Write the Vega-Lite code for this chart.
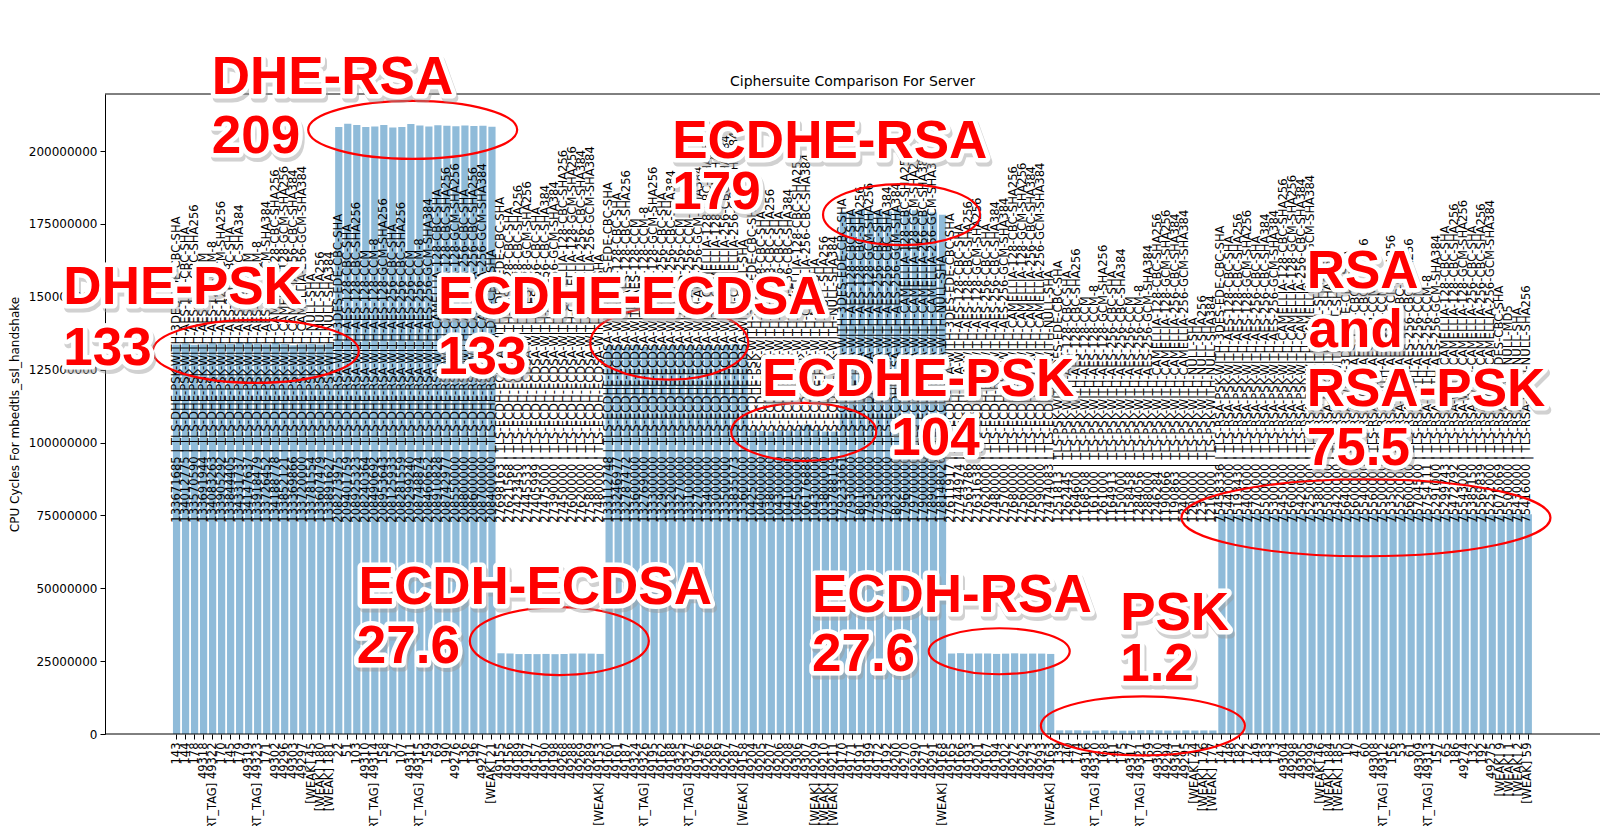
{
  "$schema": "https://vega.github.io/schema/vega-lite/v6.json",
  "width": 1495,
  "height": 640,
  "autosize": {"type": "none"},
  "padding": {"left": 105, "top": 94, "right": 0, "bottom": 92},
  "background": "white",
  "config": {
    "view": {"stroke": null},
    "font": "DejaVu Sans",
    "axis": {"labelFont": "DejaVu Sans", "labelFontSize": 12, "labelColor": "black", "tickColor": "black", "domainColor": "black", "tickSize": 5, "titleFont": "DejaVu Sans", "titleFontSize": 12, "titleFontWeight": "normal", "titleColor": "black", "grid": false}
  },
  "datasets": {
    "suites": [
      {"id": "143", "name": "TLS-DHE-PSK-WITH-3DES-EDE-CBC-SHA", "v": 133671685},
      {"id": "144", "name": "TLS-DHE-PSK-WITH-AES-128-CBC-SHA", "v": 134012775},
      {"id": "178", "name": "TLS-DHE-PSK-WITH-AES-128-CBC-SHA256", "v": 133570590},
      {"id": "49318", "name": "TLS-DHE-PSK-WITH-AES-128-CCM", "v": 133691944},
      {"id": "[SHORT_TAG] 49322", "name": "TLS-DHE-PSK-WITH-AES-128-CCM-8", "v": 134083263},
      {"id": "170", "name": "TLS-DHE-PSK-WITH-AES-128-GCM-SHA256", "v": 133905292},
      {"id": "145", "name": "TLS-DHE-PSK-WITH-AES-256-CBC-SHA", "v": 133844405},
      {"id": "179", "name": "TLS-DHE-PSK-WITH-AES-256-CBC-SHA384", "v": 134331737},
      {"id": "49319", "name": "TLS-DHE-PSK-WITH-AES-256-CCM", "v": 134147637},
      {"id": "[SHORT_TAG] 49323", "name": "TLS-DHE-PSK-WITH-AES-256-CCM-8", "v": 133918479},
      {"id": "171", "name": "TLS-DHE-PSK-WITH-AES-256-GCM-SHA384", "v": 133726452},
      {"id": "49302", "name": "TLS-DHE-PSK-WITH-CAMELLIA-128-CBC-SHA256", "v": 134188778},
      {"id": "49296", "name": "TLS-DHE-PSK-WITH-CAMELLIA-128-GCM-SHA256", "v": 133852121},
      {"id": "49303", "name": "TLS-DHE-PSK-WITH-CAMELLIA-256-CBC-SHA384", "v": 133369866},
      {"id": "49297", "name": "TLS-DHE-PSK-WITH-CAMELLIA-256-GCM-SHA384", "v": 133720000},
      {"id": "[WEAK] 45", "name": "TLS-DHE-PSK-WITH-NULL-SHA", "v": 133781554},
      {"id": "[WEAK] 180", "name": "TLS-DHE-PSK-WITH-NULL-SHA256", "v": 133607479},
      {"id": "[WEAK] 181", "name": "TLS-DHE-PSK-WITH-NULL-SHA384", "v": 133891627},
      {"id": "22", "name": "TLS-DHE-RSA-WITH-3DES-EDE-CBC-SHA", "v": 208273975},
      {"id": "51", "name": "TLS-DHE-RSA-WITH-AES-128-CBC-SHA", "v": 209401759},
      {"id": "103", "name": "TLS-DHE-RSA-WITH-AES-128-CBC-SHA256", "v": 208925323},
      {"id": "49310", "name": "TLS-DHE-RSA-WITH-AES-128-CCM", "v": 208240364},
      {"id": "[SHORT_TAG] 49314", "name": "TLS-DHE-RSA-WITH-AES-128-CCM-8", "v": 208490692},
      {"id": "158", "name": "TLS-DHE-RSA-WITH-AES-128-GCM-SHA256", "v": 208953643},
      {"id": "57", "name": "TLS-DHE-RSA-WITH-AES-256-CBC-SHA", "v": 208125933},
      {"id": "107", "name": "TLS-DHE-RSA-WITH-AES-256-CBC-SHA256", "v": 208281559},
      {"id": "49311", "name": "TLS-DHE-RSA-WITH-AES-256-CCM", "v": 209299240},
      {"id": "[SHORT_TAG] 49315", "name": "TLS-DHE-RSA-WITH-AES-256-CCM-8", "v": 208748874},
      {"id": "159", "name": "TLS-DHE-RSA-WITH-AES-256-GCM-SHA384", "v": 208460652},
      {"id": "69", "name": "TLS-DHE-RSA-WITH-CAMELLIA-128-CBC-SHA", "v": 208910828},
      {"id": "190", "name": "TLS-DHE-RSA-WITH-CAMELLIA-128-CBC-SHA256", "v": 208742977},
      {"id": "49276", "name": "TLS-DHE-RSA-WITH-CAMELLIA-128-GCM-SHA256", "v": 208550000},
      {"id": "136", "name": "TLS-DHE-RSA-WITH-CAMELLIA-256-CBC-SHA", "v": 208800000},
      {"id": "196", "name": "TLS-DHE-RSA-WITH-CAMELLIA-256-CBC-SHA256", "v": 208600000},
      {"id": "49277", "name": "TLS-DHE-RSA-WITH-CAMELLIA-256-GCM-SHA384", "v": 208700000},
      {"id": "[WEAK] 21", "name": "TLS-DHE-RSA-WITH-DES-CBC-SHA", "v": 208400000},
      {"id": "49155", "name": "TLS-ECDH-ECDSA-WITH-3DES-EDE-CBC-SHA", "v": 27698163},
      {"id": "49156", "name": "TLS-ECDH-ECDSA-WITH-AES-128-CBC-SHA", "v": 27621568},
      {"id": "49189", "name": "TLS-ECDH-ECDSA-WITH-AES-128-CBC-SHA256", "v": 27423450},
      {"id": "49197", "name": "TLS-ECDH-ECDSA-WITH-AES-128-GCM-SHA256", "v": 27445533},
      {"id": "49157", "name": "TLS-ECDH-ECDSA-WITH-AES-256-CBC-SHA", "v": 27405999},
      {"id": "49190", "name": "TLS-ECDH-ECDSA-WITH-AES-256-CBC-SHA384", "v": 27475000},
      {"id": "49198", "name": "TLS-ECDH-ECDSA-WITH-AES-256-GCM-SHA384", "v": 27390000},
      {"id": "49268", "name": "TLS-ECDH-ECDSA-WITH-CAMELLIA-128-CBC-SHA256", "v": 27450000},
      {"id": "49288", "name": "TLS-ECDH-ECDSA-WITH-CAMELLIA-128-GCM-SHA256", "v": 27600000},
      {"id": "49269", "name": "TLS-ECDH-ECDSA-WITH-CAMELLIA-256-CBC-SHA384", "v": 27620000},
      {"id": "49289", "name": "TLS-ECDH-ECDSA-WITH-CAMELLIA-256-GCM-SHA384", "v": 27580000},
      {"id": "[WEAK] 49153", "name": "TLS-ECDH-ECDSA-WITH-NULL-SHA", "v": 27480000},
      {"id": "49160", "name": "TLS-ECDHE-ECDSA-WITH-3DES-EDE-CBC-SHA", "v": 133112748},
      {"id": "49161", "name": "TLS-ECDHE-ECDSA-WITH-AES-128-CBC-SHA", "v": 133246977},
      {"id": "49187", "name": "TLS-ECDHE-ECDSA-WITH-AES-128-CBC-SHA256", "v": 132787472},
      {"id": "49324", "name": "TLS-ECDHE-ECDSA-WITH-AES-128-CCM", "v": 133600000},
      {"id": "[SHORT_TAG] 49326", "name": "TLS-ECDHE-ECDSA-WITH-AES-128-CCM-8", "v": 132769000},
      {"id": "49195", "name": "TLS-ECDHE-ECDSA-WITH-AES-128-GCM-SHA256", "v": 133300000},
      {"id": "49162", "name": "TLS-ECDHE-ECDSA-WITH-AES-256-CBC-SHA", "v": 132900000},
      {"id": "49188", "name": "TLS-ECDHE-ECDSA-WITH-AES-256-CBC-SHA384", "v": 133200000},
      {"id": "49325", "name": "TLS-ECDHE-ECDSA-WITH-AES-256-CCM", "v": 133270000},
      {"id": "[SHORT_TAG] 49327", "name": "TLS-ECDHE-ECDSA-WITH-AES-256-CCM-8", "v": 133100000},
      {"id": "49196", "name": "TLS-ECDHE-ECDSA-WITH-AES-256-GCM-SHA384", "v": 132700000},
      {"id": "49266", "name": "TLS-ECDHE-ECDSA-WITH-CAMELLIA-128-CBC-SHA256", "v": 133400000},
      {"id": "49286", "name": "TLS-ECDHE-ECDSA-WITH-CAMELLIA-128-GCM-SHA256", "v": 133000000},
      {"id": "49267", "name": "TLS-ECDHE-ECDSA-WITH-CAMELLIA-256-CBC-SHA384", "v": 133500000},
      {"id": "49287", "name": "TLS-ECDHE-ECDSA-WITH-CAMELLIA-256-GCM-SHA384", "v": 133835073},
      {"id": "[WEAK] 49158", "name": "TLS-ECDHE-ECDSA-WITH-NULL-SHA", "v": 133600000},
      {"id": "49204", "name": "TLS-ECDHE-PSK-WITH-3DES-EDE-CBC-SHA", "v": 104250000},
      {"id": "49205", "name": "TLS-ECDHE-PSK-WITH-AES-128-CBC-SHA", "v": 104000000},
      {"id": "49207", "name": "TLS-ECDHE-PSK-WITH-AES-128-CBC-SHA256", "v": 103800000},
      {"id": "49206", "name": "TLS-ECDHE-PSK-WITH-AES-256-CBC-SHA", "v": 104300000},
      {"id": "49208", "name": "TLS-ECDHE-PSK-WITH-AES-256-CBC-SHA384", "v": 104100000},
      {"id": "49306", "name": "TLS-ECDHE-PSK-WITH-CAMELLIA-128-CBC-SHA256", "v": 104500000},
      {"id": "49307", "name": "TLS-ECDHE-PSK-WITH-CAMELLIA-256-CBC-SHA384", "v": 106176888},
      {"id": "[WEAK] 49209", "name": "TLS-ECDHE-PSK-WITH-NULL-SHA", "v": 104300000},
      {"id": "[WEAK] 49210", "name": "TLS-ECDHE-PSK-WITH-NULL-SHA256", "v": 103800000},
      {"id": "[WEAK] 49211", "name": "TLS-ECDHE-PSK-WITH-NULL-SHA384", "v": 103788109},
      {"id": "49170", "name": "TLS-ECDHE-RSA-WITH-3DES-EDE-CBC-SHA", "v": 179233061},
      {"id": "49171", "name": "TLS-ECDHE-RSA-WITH-AES-128-CBC-SHA", "v": 179300000},
      {"id": "49191", "name": "TLS-ECDHE-RSA-WITH-AES-128-CBC-SHA256", "v": 180100000},
      {"id": "49199", "name": "TLS-ECDHE-RSA-WITH-AES-128-GCM-SHA256", "v": 179300000},
      {"id": "49172", "name": "TLS-ECDHE-RSA-WITH-AES-256-CBC-SHA", "v": 179500000},
      {"id": "49192", "name": "TLS-ECDHE-RSA-WITH-AES-256-CBC-SHA384", "v": 179300000},
      {"id": "49200", "name": "TLS-ECDHE-RSA-WITH-AES-256-GCM-SHA384", "v": 180200000},
      {"id": "49270", "name": "TLS-ECDHE-RSA-WITH-CAMELLIA-128-CBC-SHA256", "v": 179600000},
      {"id": "49290", "name": "TLS-ECDHE-RSA-WITH-CAMELLIA-128-GCM-SHA256", "v": 179700000},
      {"id": "49271", "name": "TLS-ECDHE-RSA-WITH-CAMELLIA-256-CBC-SHA384", "v": 179000000},
      {"id": "49291", "name": "TLS-ECDHE-RSA-WITH-CAMELLIA-256-GCM-SHA384", "v": 178900000},
      {"id": "[WEAK] 49168", "name": "TLS-ECDHE-RSA-WITH-NULL-SHA", "v": 178148026},
      {"id": "49165", "name": "TLS-ECDH-RSA-WITH-3DES-EDE-CBC-SHA", "v": 27611917},
      {"id": "49166", "name": "TLS-ECDH-RSA-WITH-AES-128-CBC-SHA", "v": 27744974},
      {"id": "49193", "name": "TLS-ECDH-RSA-WITH-AES-128-CBC-SHA256", "v": 27563786},
      {"id": "49201", "name": "TLS-ECDH-RSA-WITH-AES-128-GCM-SHA256", "v": 27631638},
      {"id": "49167", "name": "TLS-ECDH-RSA-WITH-AES-256-CBC-SHA", "v": 27620000},
      {"id": "49194", "name": "TLS-ECDH-RSA-WITH-AES-256-CBC-SHA384", "v": 27480000},
      {"id": "49202", "name": "TLS-ECDH-RSA-WITH-AES-256-GCM-SHA384", "v": 27570000},
      {"id": "49272", "name": "TLS-ECDH-RSA-WITH-CAMELLIA-128-CBC-SHA256", "v": 27680000},
      {"id": "49292", "name": "TLS-ECDH-RSA-WITH-CAMELLIA-128-GCM-SHA256", "v": 27560000},
      {"id": "49273", "name": "TLS-ECDH-RSA-WITH-CAMELLIA-256-CBC-SHA384", "v": 27600000},
      {"id": "49293", "name": "TLS-ECDH-RSA-WITH-CAMELLIA-256-GCM-SHA384", "v": 27590000},
      {"id": "[WEAK] 49163", "name": "TLS-ECDH-RSA-WITH-NULL-SHA", "v": 27474083},
      {"id": "139", "name": "TLS-PSK-WITH-3DES-EDE-CBC-SHA", "v": 1251813},
      {"id": "140", "name": "TLS-PSK-WITH-AES-128-CBC-SHA", "v": 1262445},
      {"id": "174", "name": "TLS-PSK-WITH-AES-128-CBC-SHA256", "v": 1264600},
      {"id": "49316", "name": "TLS-PSK-WITH-AES-128-CCM", "v": 1168508},
      {"id": "[SHORT_TAG] 49320", "name": "TLS-PSK-WITH-AES-128-CCM-8", "v": 1161000},
      {"id": "168", "name": "TLS-PSK-WITH-AES-128-GCM-SHA256", "v": 1261000},
      {"id": "141", "name": "TLS-PSK-WITH-AES-256-CBC-SHA", "v": 1164913},
      {"id": "175", "name": "TLS-PSK-WITH-AES-256-CBC-SHA384", "v": 1150000},
      {"id": "49317", "name": "TLS-PSK-WITH-AES-256-CCM", "v": 1158458},
      {"id": "[SHORT_TAG] 49321", "name": "TLS-PSK-WITH-AES-256-CCM-8", "v": 1284056},
      {"id": "169", "name": "TLS-PSK-WITH-AES-256-GCM-SHA384", "v": 1288000},
      {"id": "49300", "name": "TLS-PSK-WITH-CAMELLIA-128-CBC-SHA256", "v": 1246284},
      {"id": "49294", "name": "TLS-PSK-WITH-CAMELLIA-128-GCM-SHA256", "v": 1190066},
      {"id": "49301", "name": "TLS-PSK-WITH-CAMELLIA-256-CBC-SHA384", "v": 1190863},
      {"id": "49295", "name": "TLS-PSK-WITH-CAMELLIA-256-GCM-SHA384", "v": 1240000},
      {"id": "[WEAK] 44", "name": "TLS-PSK-WITH-NULL-SHA", "v": 1200000},
      {"id": "[WEAK] 176", "name": "TLS-PSK-WITH-NULL-SHA256", "v": 1230000},
      {"id": "[WEAK] 177", "name": "TLS-PSK-WITH-NULL-SHA384", "v": 1210000},
      {"id": "147", "name": "TLS-RSA-PSK-WITH-3DES-EDE-CBC-SHA", "v": 75458336},
      {"id": "148", "name": "TLS-RSA-PSK-WITH-AES-128-CBC-SHA", "v": 75440000},
      {"id": "182", "name": "TLS-RSA-PSK-WITH-AES-128-CBC-SHA256", "v": 75193430},
      {"id": "172", "name": "TLS-RSA-PSK-WITH-AES-128-GCM-SHA256", "v": 75400000},
      {"id": "149", "name": "TLS-RSA-PSK-WITH-AES-256-CBC-SHA", "v": 75700000},
      {"id": "183", "name": "TLS-RSA-PSK-WITH-AES-256-CBC-SHA384", "v": 75500000},
      {"id": "173", "name": "TLS-RSA-PSK-WITH-AES-256-GCM-SHA384", "v": 75300000},
      {"id": "49304", "name": "TLS-RSA-PSK-WITH-CAMELLIA-128-CBC-SHA256", "v": 75450000},
      {"id": "49298", "name": "TLS-RSA-PSK-WITH-CAMELLIA-128-GCM-SHA256", "v": 75600000},
      {"id": "49305", "name": "TLS-RSA-PSK-WITH-CAMELLIA-256-CBC-SHA384", "v": 75420000},
      {"id": "49299", "name": "TLS-RSA-PSK-WITH-CAMELLIA-256-GCM-SHA384", "v": 75250000},
      {"id": "[WEAK] 46", "name": "TLS-RSA-PSK-WITH-NULL-SHA", "v": 75380000},
      {"id": "[WEAK] 184", "name": "TLS-RSA-PSK-WITH-NULL-SHA256", "v": 75500000},
      {"id": "[WEAK] 185", "name": "TLS-RSA-PSK-WITH-NULL-SHA384", "v": 75420000},
      {"id": "10", "name": "TLS-RSA-WITH-3DES-EDE-CBC-SHA", "v": 75640000},
      {"id": "47", "name": "TLS-RSA-WITH-AES-128-CBC-SHA", "v": 75600000},
      {"id": "60", "name": "TLS-RSA-WITH-AES-128-CBC-SHA256", "v": 75540000},
      {"id": "49308", "name": "TLS-RSA-WITH-AES-128-CCM", "v": 75560000},
      {"id": "[SHORT_TAG] 49312", "name": "TLS-RSA-WITH-AES-128-CCM-8", "v": 75500000},
      {"id": "156", "name": "TLS-RSA-WITH-AES-128-GCM-SHA256", "v": 75350000},
      {"id": "53", "name": "TLS-RSA-WITH-AES-256-CBC-SHA", "v": 75520000},
      {"id": "61", "name": "TLS-RSA-WITH-AES-256-CBC-SHA256", "v": 75600000},
      {"id": "49309", "name": "TLS-RSA-WITH-AES-256-CCM", "v": 75704500},
      {"id": "[SHORT_TAG] 49313", "name": "TLS-RSA-WITH-AES-256-CCM-8", "v": 75754111},
      {"id": "157", "name": "TLS-RSA-WITH-AES-256-GCM-SHA384", "v": 75291000},
      {"id": "65", "name": "TLS-RSA-WITH-CAMELLIA-128-CBC-SHA", "v": 75299743},
      {"id": "186", "name": "TLS-RSA-WITH-CAMELLIA-128-CBC-SHA256", "v": 75472792},
      {"id": "49274", "name": "TLS-RSA-WITH-CAMELLIA-128-GCM-SHA256", "v": 75543000},
      {"id": "132", "name": "TLS-RSA-WITH-CAMELLIA-256-CBC-SHA", "v": 75385150},
      {"id": "192", "name": "TLS-RSA-WITH-CAMELLIA-256-CBC-SHA256", "v": 75569839},
      {"id": "49275", "name": "TLS-RSA-WITH-CAMELLIA-256-GCM-SHA384", "v": 75252000},
      {"id": "[WEAK] 9", "name": "TLS-RSA-WITH-DES-CBC-SHA", "v": 75075069},
      {"id": "[WEAK] 1", "name": "TLS-RSA-WITH-NULL-MD5", "v": 75500000},
      {"id": "[WEAK] 2", "name": "TLS-RSA-WITH-NULL-SHA", "v": 75430000},
      {"id": "[WEAK] 59", "name": "TLS-RSA-WITH-NULL-SHA256", "v": 75416000}
    ],
    "notes": [
      {"t": "DHE-RSA", "x": 3.9, "y": 219500000},
      {"t": "209", "x": 3.9, "y": 199200000},
      {"t": "ECDHE-RSA", "x": 55.0, "y": 197500000},
      {"t": "179", "x": 55.0, "y": 180000000},
      {"t": "DHE-PSK", "x": -12.56, "y": 147400000},
      {"t": "133", "x": -12.56, "y": 126700000},
      {"t": "ECDHE-ECDSA", "x": 29.0, "y": 144200000},
      {"t": "133", "x": 29.0, "y": 123600000},
      {"t": "ECDHE-PSK", "x": 64.96, "y": 115900000},
      {"t": "104", "x": 79.3, "y": 95900000},
      {"t": "ECDH-ECDSA", "x": 20.2, "y": 44500000},
      {"t": "27.6", "x": 20.0, "y": 24200000},
      {"t": "ECDH-RSA", "x": 70.5, "y": 41700000},
      {"t": "27.6", "x": 70.5, "y": 21700000},
      {"t": "PSK", "x": 104.7, "y": 35700000},
      {"t": "1.2", "x": 104.7, "y": 18200000},
      {"t": "RSA", "x": 125.4, "y": 153000000},
      {"t": "and", "x": 125.6, "y": 132700000},
      {"t": "RSA-PSK", "x": 125.4, "y": 112400000},
      {"t": "75.5", "x": 125.4, "y": 92400000}
    ],
    "rings": [
      {"g": "DHE-RSA", "x": 26.2, "y": 207300000},
      {"g": "ECDHE-RSA", "x": 80.44, "y": 178200000},
      {"g": "DHE-PSK", "x": 8.79, "y": 131300000},
      {"g": "ECDHE-ECDSA", "x": 54.67, "y": 134100000},
      {"g": "ECDHE-PSK", "x": 69.59, "y": 103700000},
      {"g": "ECDH-ECDSA", "x": 42.47, "y": 31900000},
      {"g": "ECDH-RSA", "x": 91.28, "y": 28400000},
      {"g": "PSK", "x": 107.22, "y": 2800000},
      {"g": "RSA", "x": 131.97, "y": 74200000}
    ],
    "heading": [{"t": "Ciphersuite Comparison For Server", "x": 75, "y": 222200000}],
    "frame": [{"x0": -7.94, "x1": 157.94, "ylo": 0, "yhi": 219600000}]
  },
  "layer": [
    {
      "data": {"name": "suites"},
      "mark": {"type": "bar", "color": "#8fbbd9"},
      "encoding": {
        "x": {"field": "id", "type": "nominal", "sort": null, "scale": {"paddingInner": 0.2, "paddingOuter": 0, "range": [67.95, 1426.9]},
          "axis": {"title": null, "domain": false, "labelAngle": -90, "labelPadding": 3, "labelLimit": 1000, "labelOverlap": false, "labelFontSize": 11.5}},
        "y": {"field": "v", "type": "quantitative", "scale": {"domain": [0, 219600000], "nice": false, "zero": true},
          "axis": {"title": "CPU Cycles For mbedtls_ssl_handshake", "values": [0, 25000000, 50000000, 75000000, 100000000, 125000000, 150000000, 175000000, 200000000], "format": "d", "labelPadding": 3, "titlePadding": 7}}
      }
    },
    {
      "data": {"name": "suites"},
      "transform": [{"calculate": "datum.v + ' | ' + datum.name", "as": "lab"}],
      "mark": {"type": "text", "angle": 270, "align": "left", "baseline": "middle", "fontSize": 11.6, "font": "DejaVu Sans", "color": "black"},
      "encoding": {
        "x": {"field": "id", "type": "nominal", "sort": null, "scale": {"paddingInner": 0.2, "paddingOuter": 0, "range": [67.95, 1426.9]}, "axis": null},
        "y": {"datum": 72500000, "type": "quantitative"},
        "text": {"field": "lab"}
      }
    },
    {
      "data": {"name": "frame"},
      "mark": {"type": "rule", "color": "black", "strokeWidth": 1},
      "encoding": {
        "x": {"field": "x0", "type": "quantitative", "scale": {"domain": [-7.94, 157.94], "nice": false, "zero": false}, "axis": null},
        "x2": {"field": "x1"},
        "y": {"field": "ylo", "type": "quantitative"}
      }
    },
    {
      "data": {"name": "frame"},
      "mark": {"type": "rule", "color": "black", "strokeWidth": 1},
      "encoding": {
        "x": {"field": "x0", "type": "quantitative", "scale": {"domain": [-7.94, 157.94], "nice": false, "zero": false}, "axis": null},
        "x2": {"field": "x1"},
        "y": {"field": "yhi", "type": "quantitative"}
      }
    },
    {
      "data": {"name": "heading"},
      "mark": {"type": "text", "align": "center", "baseline": "alphabetic", "font": "DejaVu Sans", "fontSize": 14, "color": "black"},
      "encoding": {
        "x": {"field": "x", "type": "quantitative", "scale": {"domain": [-7.94, 157.94], "nice": false, "zero": false}, "axis": null},
        "y": {"field": "y", "type": "quantitative"},
        "text": {"field": "t"}
      }
    },
    {
      "data": {"name": "rings"},
      "mark": {"type": "point", "filled": false, "stroke": "#ff0000", "strokeWidth": 2.2, "opacity": 1, "size": 4},
      "encoding": {
        "x": {"field": "x", "type": "quantitative", "scale": {"domain": [-7.94, 157.94], "nice": false, "zero": false}, "axis": null},
        "y": {"field": "y", "type": "quantitative"},
        "shape": {"field": "g", "type": "nominal", "legend": null, "scale": {
          "domain": ["DHE-RSA", "ECDHE-RSA", "DHE-PSK", "ECDHE-ECDSA", "ECDHE-PSK", "ECDH-ECDSA", "ECDH-RSA", "PSK", "RSA"],
          "range": [
            "M -104.5 0 A 104.5 29 0 1 0 104.5 0 A 104.5 29 0 1 0 -104.5 0",
            "M -78.5 0 A 78.5 30.5 0 1 0 78.5 0 A 78.5 30.5 0 1 0 -78.5 0",
            "M -103 0 A 103 31.5 0 1 0 103 0 A 103 31.5 0 1 0 -103 0",
            "M -79 0 A 79 36.5 0 1 0 79 0 A 79 36.5 0 1 0 -79 0",
            "M -72.5 0 A 72.5 29 0 1 0 72.5 0 A 72.5 29 0 1 0 -72.5 0",
            "M -89.5 0 A 89.5 34 0 1 0 89.5 0 A 89.5 34 0 1 0 -89.5 0",
            "M -70.5 0 A 70.5 23 0 1 0 70.5 0 A 70.5 23 0 1 0 -70.5 0",
            "M -102 0 A 102 29.5 0 1 0 102 0 A 102 29.5 0 1 0 -102 0",
            "M -184.5 0 A 184.5 38.5 0 1 0 184.5 0 A 184.5 38.5 0 1 0 -184.5 0"
          ]}}
      }
    },
    {
      "data": {"name": "notes"},
      "mark": {"type": "text", "align": "left", "baseline": "alphabetic", "font": "Liberation Sans", "fontWeight": "bold", "fontSize": 53, "fill": "#9a9a9a", "stroke": "#9a9a9a", "strokeWidth": 9, "strokeJoin": "round", "opacity": 0.45, "dx": 2, "dy": 4},
      "encoding": {
        "x": {"field": "x", "type": "quantitative", "scale": {"domain": [-7.94, 157.94], "nice": false, "zero": false}, "axis": null},
        "y": {"field": "y", "type": "quantitative"},
        "text": {"field": "t"}
      }
    },
    {
      "data": {"name": "notes"},
      "mark": {"type": "text", "align": "left", "baseline": "alphabetic", "font": "Liberation Sans", "fontWeight": "bold", "fontSize": 53, "fill": "white", "stroke": "white", "strokeWidth": 9, "strokeJoin": "round"},
      "encoding": {
        "x": {"field": "x", "type": "quantitative", "scale": {"domain": [-7.94, 157.94], "nice": false, "zero": false}, "axis": null},
        "y": {"field": "y", "type": "quantitative"},
        "text": {"field": "t"}
      }
    },
    {
      "data": {"name": "notes"},
      "mark": {"type": "text", "align": "left", "baseline": "alphabetic", "font": "Liberation Sans", "fontWeight": "bold", "fontSize": 53, "fill": "#ff0000"},
      "encoding": {
        "x": {"field": "x", "type": "quantitative", "scale": {"domain": [-7.94, 157.94], "nice": false, "zero": false}, "axis": null},
        "y": {"field": "y", "type": "quantitative"},
        "text": {"field": "t"}
      }
    }
  ],
  "resolve": {"scale": {"x": "independent"}}
}
